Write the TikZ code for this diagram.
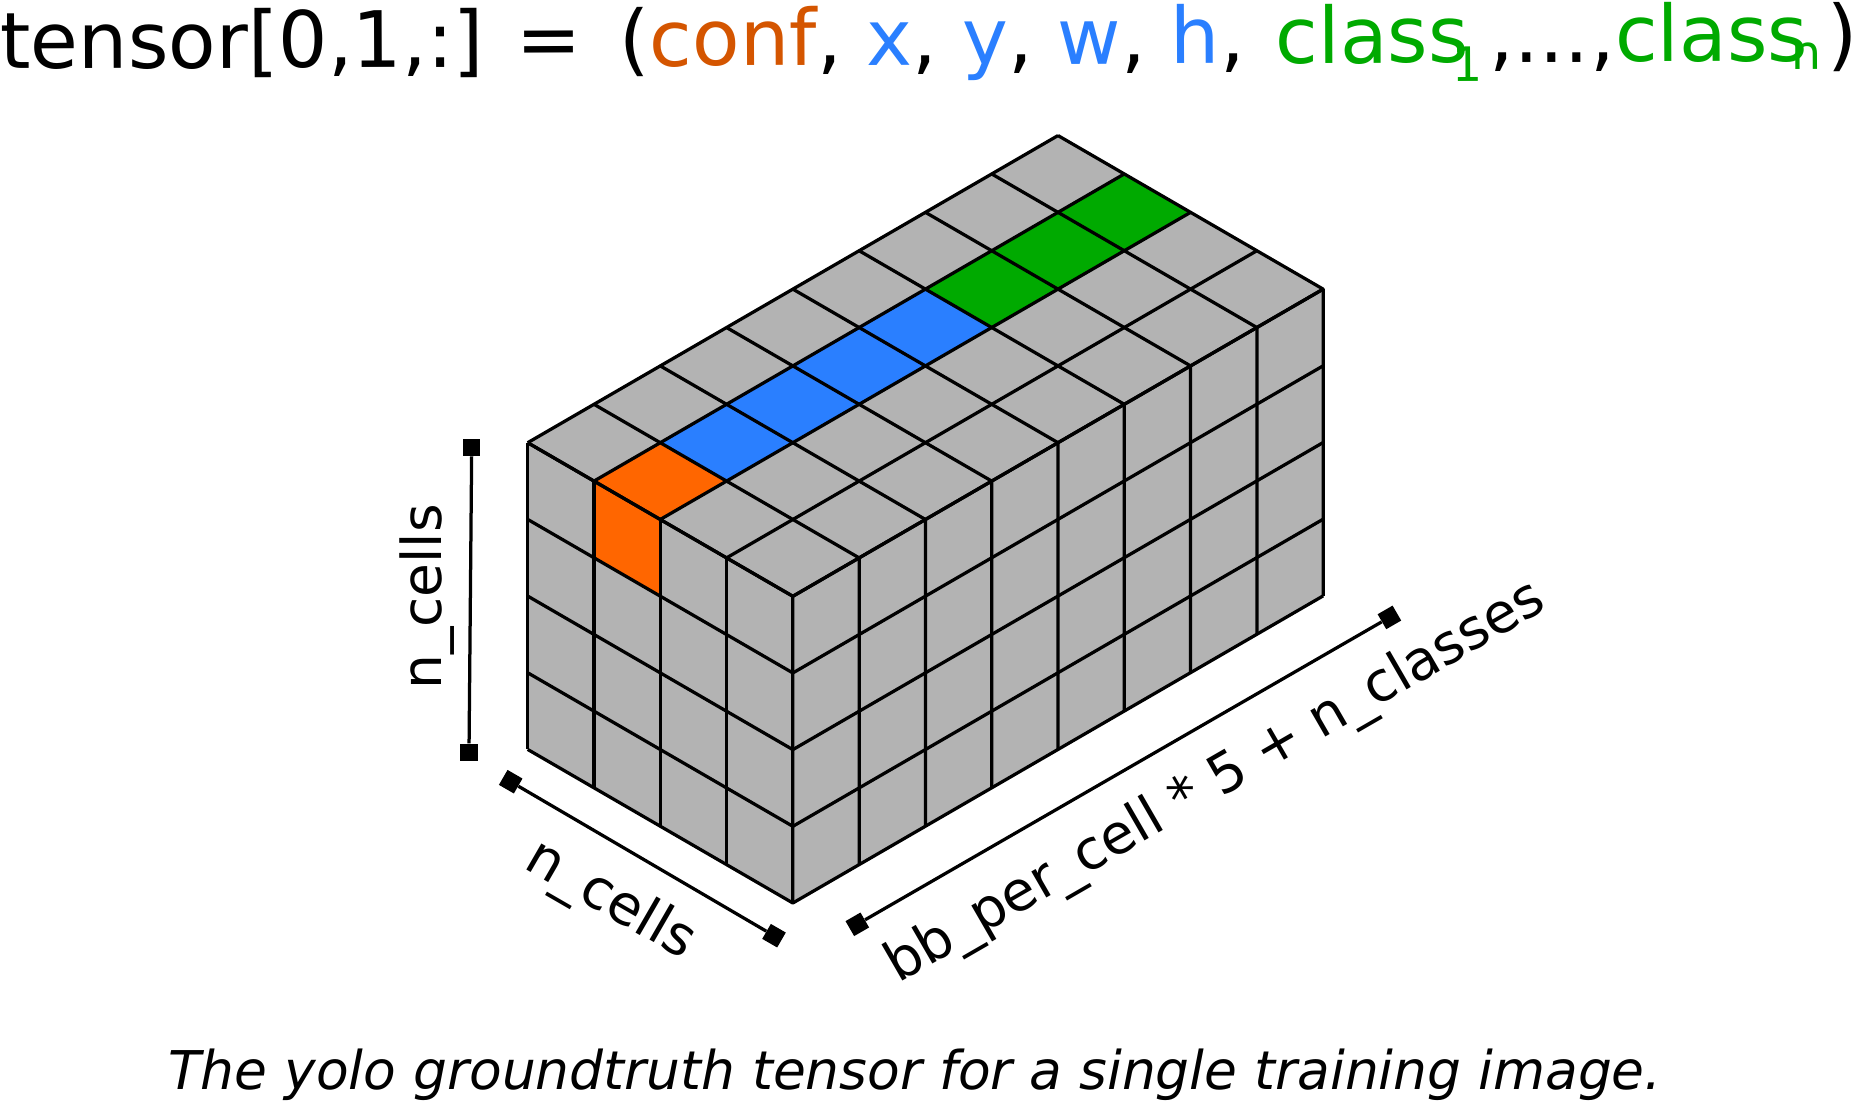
\documentclass[tikz,border=0pt]{standalone}
\usepackage{fontspec}
\setmainfont{DejaVu Sans}
\definecolor{cellgray}{HTML}{B3B3B3}
\definecolor{confcell}{HTML}{FF6600}
\definecolor{conftext}{HTML}{D45500}
\definecolor{boxblue}{HTML}{2A7FFF}
\definecolor{classgreen}{HTML}{00AA00}
\newcommand{\subidx}[2]{\kern-0.22em\raisebox{#1}{\fontsize{27}{27}\selectfont #2}}
\tikzset{
    gridline/.style={black, line width=0.065cm, line join=round},
    endsq/.style={fill=black, inner sep=0pt, minimum size=0.345cm},
    dimline/.style={black, line width=0.065cm},
    dimtext/.style={font=\fontsize{31.3}{34}\selectfont, inner sep=0pt},
}
\begin{document}
\begin{tikzpicture}[x=0.02cm, y=-0.02cm]
    \useasboundingbox (0,0) rectangle (1851,1101);

    % the tensor
    \begin{scope}[shift={(527.7,442.7)}, x={(1.326cm,0.768cm)}, y={(1.326cm,-0.768cm)}, z={(0cm,-1.534cm)}]
        \fill[cellgray] (0,0,0) -- (8,0,0) -- (8,4,0) -- (8,4,4) -- (0,4,4) -- (0,0,4) -- cycle;

        \fill[confcell] (0,1,0) -- (1,1,0) -- (1,2,0) -- (0,2,0) -- cycle;
        \fill[confcell] (0,1,0) -- (0,2,0) -- (0,2,1) -- (0,1,1) -- cycle;
        \fill[boxblue] (1,1,0) -- (5,1,0) -- (5,2,0) -- (1,2,0) -- cycle;
        \fill[classgreen] (5,1,0) -- (8,1,0) -- (8,2,0) -- (5,2,0) -- cycle;

        \foreach \u in {0,...,8} {
            \draw[gridline] (\u,0,0) -- (\u,4,0) -- (\u,4,4);
        }
        \foreach \v in {0,...,4} {
            \draw[gridline] (0,\v,0) -- (8,\v,0);
            \draw[gridline] (0,\v,0) -- (0,\v,4);
            \draw[gridline] (0,0,\v) -- (0,4,\v) -- (8,4,\v);
        }
    \end{scope}

    % dimension marks
    \node[endsq] (sideTop) at (471.7,447.3) {};
    \node[endsq] (sideBot) at (469,752.3) {};
    \draw[dimline] (sideTop) -- (sideBot);
    \node[dimtext, rotate=90] (sideLabel) at (427,597) {n\_cells};

    \node[endsq, rotate=-30] (depthA) at (510.7,781.7) {};
    \node[endsq, rotate=-30] (depthB) at (774,935.7) {};
    \draw[dimline] (depthA) -- (depthB);
    \node[dimtext, rotate=-30] (depthLabel) at (610,901) {n\_cells};

    \node[endsq, rotate=30] (lenA) at (857.3,924.3) {};
    \node[endsq, rotate=30] (lenB) at (1389.4,617.4) {};
    \draw[dimline] (lenA) -- (lenB);
    \node[dimtext, rotate=30] (lenLabel) at (1216,783.5) {bb\_per\_cell * 5 + n\_classes};

    % title and caption
    \node[anchor=base west, inner sep=0pt, rotate=0.25, font=\fontsize{44.3}{48}\selectfont] (title) at (0,69)
        {tensor[0,1,:] = \,(\textcolor{conftext}{conf}, \textcolor{boxblue}{x}, \textcolor{boxblue}{y}, \textcolor{boxblue}{w}, \textcolor{boxblue}{h},\kern0.08em\ \textcolor{classgreen}{class\subidx{-10.5pt}{1}}\kern0.1em,...\kern0.02em,\textcolor{classgreen}{class\subidx{-5pt}{n}}\kern0.08em)};
    \node[anchor=base, font=\fontsize{30.4}{33}\selectfont\itshape, inner sep=0pt] (caption) at (915,1089.5)
        {The yolo groundtruth tensor for a single training image.};
\end{tikzpicture}
\end{document}
